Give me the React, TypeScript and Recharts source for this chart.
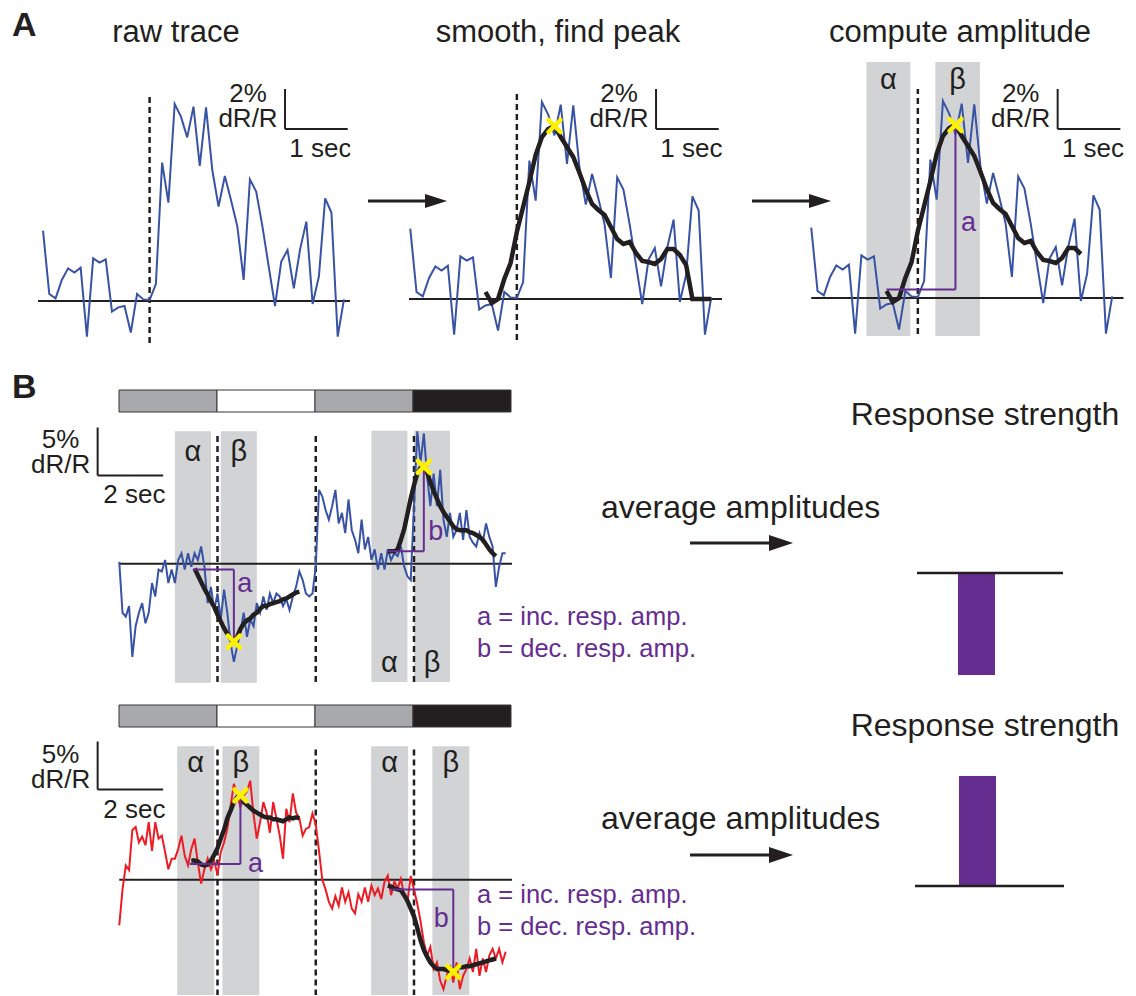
import React from 'react';
import {
  ComposedChart,
  Line,
  XAxis,
  YAxis,
  ReferenceLine,
  ReferenceArea,
  ReferenceDot,
  BarChart,
  Bar,
} from 'recharts';

const FONT = '"Liberation Sans", Arial, Helvetica, sans-serif';
const INK = '#231f20';
const BLUE = '#3853a4';
const RED = '#ed1c24';
const SHADE = '#d1d3d4';
const PURPLE = '#662d91';
const YELLOW = '#fff200';
const STIM_COLORS = ['#a7a9ac', '#ffffff', '#a7a9ac', '#231f20'];

// ---------- panel A: one trial, dR/R (%) sampled at 10 Hz ----------
const rawA = [
  3.52, 0.35, 0.13, 1.05, 1.63, 1.42, 1.67, -1.78, 2.13, 1.92, 2.08, -0.53, -0.32, -0.25, -1.58, 0.35,
  0.08, 0.05, 0.85, 6.92, 4.92, 9.85, 9.22, 8.18, 9.72, 6.75, 9.68, 6.55, 4.72, 6.25, 5.02, 3.72, 1.05,
  6.08, 5.47, 3.72, 1.72, -0.25, 1.97, 2.55, 0.63, 2.58, 3.97, -0.15, 1.22, 5.13, 4.42, -1.78, 0.08,
];
const smoothStartA = 1.2;
const smoothA = [
  0.35, -0.2, 0.0, 1.0, 1.8, 3.35, 4.6, 5.85, 7.2, 8.1, 8.5, 8.65, 8.1, 7.6, 7.1, 6.3, 5.45, 4.75, 4.45,
  4.2, 3.6, 3.0, 2.75, 2.85, 2.3, 1.9, 1.85, 1.75, 2.0, 2.5, 2.5, 2.2, 1.7, 0.0, 0.0, 0.0, 0.0,
];
const smoothEndA3 = 4.3;
const onsetA = 1.7;
const alphaA = [0.88, 1.58];
const betaA = [1.98, 2.69];
const ampA = { name: 'a', from: 1.2, base: 0.42, sign: 1 };

// ---------- panel B: 12 s trials, four 3 s stimulus epochs, 10 Hz ----------
const stimEpochs = [3, 3, 3, 3];
const stimOnsets = [3, 6, 9];

const blueRaw = [
  0.2, -5.1, -5.5, -4.4, -9.7, -6.5, -5.1, -4.1, -6.2, -5.1, -2.0, -3.4, -0.6, -0.8, 0.4, -2.0, -0.6,
  -2.0, 0.4, 1.1, -0.6, 1.1, -0.3, 1.1, 0.4, 1.8, -0.3, -4.1, -2.4, -4.8, -3.1,
  -5.8, -2.7, -5.1, -8.3, -10.2, -8.6, -7.2, -5.1, -7.6, -5.8, -6.5, -4.1, -5.1, -3.4, -4.8, -3.1, -4.1,
  -3.1, -3.4, -4.4, -3.7, -4.8, -3.4, -2.4, -0.8, -1.7, -3.1, -3.4, -3.1, -0.3,
  7.7, 7.0, 5.6, 4.6, 6.0, 7.7, 4.2, 5.3, 3.2, 6.7, 3.5, 2.5, 1.1, 4.6, 1.5, 2.8, 0.4, 1.5, -0.6, 1.1,
  -0.6, 1.5, 0.4, 1.1, 0.8, 1.8, -0.3, -1.3, -1.7, 6.0,
  13.8, 10.5, 13.6, 9.1, 6.0, 9.4, 6.0, 9.8, 4.6, 2.8, 5.3, 2.8, 3.5, 5.3, 2.5, 5.6, 2.8, 2.2, 1.8, 3.2,
  2.2, 4.2, 2.8, 1.8, -2.4, -0.3, 1.1, 1.1,
];
const blueSmoothStarts = [2.3, 8.2];
const blueSmoothEarly = [
  -0.5, -1.2, -1.9, -2.6, -3.2, -3.9, -4.5, -5.3, -6.0, -6.7, -7.3, -7.8, -8.1, -7.6, -6.8, -6.2, -5.9,
  -5.7, -5.3, -5.1, -4.7, -4.4, -4.4, -4.2, -4.1, -4.0, -3.9, -3.7, -3.6, -3.4, -3.2, -3.0, -2.9,
];
const blueSmoothLate = [
  1.3, 1.3, 1.3, 1.5, 2.5, 3.6, 5.2, 6.8, 8.2, 9.4, 10.0, 10.1, 9.5, 8.5, 7.6, 6.8, 6.0, 5.4, 4.9, 4.4,
  3.9, 3.6, 3.5, 3.5, 3.5, 3.3, 3.2, 3.0, 2.8, 2.5, 2.0, 1.5, 1.1, 0.8,
];
const blueAlpha = [[1.7, 2.8], [7.7, 8.8]];
const blueBeta = [[3.1, 4.2], [9.0, 10.1]];
const blueAmps = [
  { name: 'a', from: 2.25, base: -0.6, sign: -1 },
  { name: 'b', from: 8.2, base: 1.3, sign: 1 },
];

const redRaw = [
  -4.75, -1.0, 1.5, 1.0, 5.2, 5.5, 3.9, 4.5, 3.6, 6.0, 3.0, 6.0, 4.3, 4.6, 2.9, 1.1, 2.2, 2.2, 3.2, 4.6,
  2.5, 1.5, 3.2, 4.3, 1.8, -0.4, 1.1, 2.2, 1.1, 2.0, 0.5,
  2.9, 3.9, 5.3, 7.7, 10.0, 8.8, 7.6, 8.8, 9.2, 10.3, 6.8, 4.3, 6.0, 8.1, 7.0, 4.9, 8.1, 6.4, 4.6, 2.2,
  7.4, 6.0, 9.0, 7.0, 6.4, 4.6, 5.3, 5.5, 6.9, 5.8,
  3.0, 0.0, -1.0, -2.3, -3.0, -1.7, -2.7, -0.8, -2.3, -1.3, -3.0, -3.5, -1.5, -2.3, -0.8, -2.3, -0.6,
  -1.6, -0.9, -2.0, -0.2, 0.45, -1.6, -0.2, -0.9, 0.1, -1.6, -2.3, 0.4, -1.0,
  -2.5, -4.3, -6.5, -7.9, -7.0, -9.3, -8.6, -10.5, -11.4, -10.0, -8.9, -10.7, -8.6, -11.4, -10.0, -9.3,
  -8.2, -9.6, -7.2, -10.0, -8.2, -9.6, -7.9, -7.2, -8.2, -7.2, -8.6, -7.5,
];
const redSmoothStarts = [2.2, 8.2];
const redSmoothEarly = [
  2.0, 2.0, 1.9, 1.6, 1.5, 1.6, 2.0, 2.6, 3.3, 4.3, 5.2, 6.4, 7.2, 8.1, 8.6, 8.8, 8.1, 7.8, 7.5, 7.2,
  7.0, 6.8, 6.6, 6.5, 6.5, 6.3, 6.3, 6.2, 6.1, 6.3, 6.5, 6.4, 6.5, 6.4,
];
const redSmoothLate = [
  -0.6, -0.7, -0.9, -1.0, -1.1, -1.6, -2.2, -3.0, -3.8, -5.0, -6.3, -7.3, -8.0, -8.6, -9.0, -9.3, -9.3,
  -9.3, -9.4, -9.5, -9.6, -9.2, -9.1, -9.1, -9.0, -9.0, -8.9, -8.8, -8.7, -8.6, -8.5, -8.4, -8.3, -8.2,
];
const redAlpha = [[1.77, 2.9], [7.69, 8.82]];
const redBeta = [[3.15, 4.28], [9.56, 10.69]];
const redAmps = [
  { name: 'a', from: 2.15, base: 1.65, sign: 1 },
  { name: 'b', from: 8.3, base: -1.0, sign: -1 },
];

// averaged amplitudes (response strength, a.u.)
const responseBlue = -10.2;
const responseRed = 11.0;

type Row = { t: number; raw: number; smooth: number | null; cut?: number | null };
type Seg = { start: number; values: number[] };

function buildRows(raw: number[], segs: Seg[]): Row[] {
  return raw.map((v, i) => {
    let s: number | null = null;
    segs.forEach((seg) => {
      const k = i - Math.round(seg.start * 10);
      if (k >= 0 && k < seg.values.length) s = seg.values[k];
    });
    return { t: i / 10, raw: v, smooth: s };
  });
}

function findPeak(rows: Row[], win: number[], sign: number) {
  let best: { t: number; v: number } | null = null;
  rows.forEach((r) => {
    if (r.smooth == null || r.t < win[0] - 1e-9 || r.t > win[1] + 1e-9) return;
    if (!best || sign * r.smooth > sign * best.v) best = { t: r.t, v: r.smooth };
  });
  return best as unknown as { t: number; v: number };
}

const rowsA: Row[] = buildRows(rawA, [{ start: smoothStartA, values: smoothA }]).map((r) => ({
  ...r,
  cut: r.t <= smoothEndA3 + 1e-9 ? r.smooth : null,
}));
const rowsBlue = buildRows(blueRaw, [
  { start: blueSmoothStarts[0], values: blueSmoothEarly },
  { start: blueSmoothStarts[1], values: blueSmoothLate },
]);
const rowsRed = buildRows(redRaw, [
  { start: redSmoothStarts[0], values: redSmoothEarly },
  { start: redSmoothStarts[1], values: redSmoothLate },
]);

// ---------- label renderers ----------
const vbOf = (p: any) => p?.viewBox || { x: 0, y: 0, width: 0, height: 0 };

const scaleVertLabel = (top: string, bottom: string, size: number) => (p: any) => {
  const vb = vbOf(p);
  const x = vb.x - 37;
  const yb = vb.y + vb.height;
  return (
    <g fill={INK} fontSize={size} textAnchor="middle">
      <text x={x} y={yb - 27}>{top}</text>
      <text x={x} y={yb - 2}>{bottom}</text>
    </g>
  );
};

const scaleHorzLabel = (text: string, size: number) => (p: any) => {
  const vb = vbOf(p);
  return (
    <text x={vb.x + vb.width / 2 + 4} y={vb.y + 28} fill={INK} fontSize={size} textAnchor="middle">
      {text}
    </text>
  );
};

const areaLabel = (text: string, at: 'top' | 'bottom', off: number) => (p: any) => {
  const vb = vbOf(p);
  const y = at === 'top' ? vb.y + off : vb.y + vb.height - off;
  return (
    <text x={vb.x + vb.width / 2} y={y} fill={INK} fontSize={29} textAnchor="middle" dominantBaseline="central">
      {text}
    </text>
  );
};

const tagLabel = (text: string, dx: number, dy: number) => (p: any) => {
  const vb = vbOf(p);
  return (
    <text
      x={vb.x + dx}
      y={vb.y + vb.height / 2 + dy}
      fill={PURPLE}
      fontSize={27}
      textAnchor="middle"
      dominantBaseline="central"
    >
      {text}
    </text>
  );
};

const xMark = (p: any) => (
  <g stroke={YELLOW} strokeWidth={4.5} strokeLinecap="round">
    <line x1={p.cx - 6} y1={p.cy - 6} x2={p.cx + 6} y2={p.cy + 6} />
    <line x1={p.cx - 6} y1={p.cy + 6} x2={p.cx + 6} y2={p.cy - 6} />
  </g>
);

type Shade = { x: number[]; y: number[]; label?: string; at?: 'top' | 'bottom'; off?: number };
type Amp = { name: string; from: number; base: number; peak: { t: number; v: number }; dx: number; dy: number };

type TraceProps = {
  left: number;
  top: number;
  pxX: number;
  pxY: number;
  xDomain: number[];
  yDomain: number[];
  rows: Row[];
  color: string;
  smoothKey?: string;
  shades?: Shade[];
  dashes: { x: number; y: number[] }[];
  baseline: number[];
  scale: { x: number; y: number; w: number; h: number; top: string; bottom: string; time: string; size: number };
  amps?: Amp[];
  marks?: { t: number; v: number }[];
};

function TraceChart(props: TraceProps) {
  const { left, top, pxX, pxY, xDomain, yDomain, rows, color, smoothKey, shades = [], dashes, baseline, scale, amps = [], marks = [] } = props;
  const width = (xDomain[1] - xDomain[0]) * pxX;
  const height = (yDomain[1] - yDomain[0]) * pxY;
  return (
    <div style={{ position: 'absolute', left, top }}>
      <ComposedChart width={width} height={height} data={rows} margin={{ top: 0, right: 0, bottom: 0, left: 0 }}>
        <XAxis type="number" dataKey="t" domain={xDomain} hide allowDataOverflow />
        <YAxis type="number" domain={yDomain} hide allowDataOverflow />
        {shades.map((s, i) => (
          <ReferenceArea
            key={`shade-${i}`}
            x1={s.x[0]}
            x2={s.x[1]}
            y1={s.y[0]}
            y2={s.y[1]}
            fill={SHADE}
            fillOpacity={1}
            stroke="none"
            label={s.label ? areaLabel(s.label, s.at || 'top', s.off || 18) : undefined}
          />
        ))}
        <ReferenceLine
          segment={[{ x: baseline[0], y: 0 }, { x: baseline[1], y: 0 }]}
          stroke={INK}
          strokeWidth={2}
        />
        {dashes.map((d, i) => (
          <ReferenceLine
            key={`dash-${i}`}
            segment={[{ x: d.x, y: d.y[0] }, { x: d.x, y: d.y[1] }]}
            stroke={INK}
            strokeWidth={2.5}
            strokeDasharray="6 4"
          />
        ))}
        <Line
          type="linear"
          dataKey="raw"
          stroke={color}
          strokeWidth={2}
          dot={false}
          activeDot={false}
          isAnimationActive={false}
        />
        {smoothKey && (
          <Line
            type="linear"
            dataKey={smoothKey}
            stroke={INK}
            strokeWidth={4.5}
            dot={false}
            activeDot={false}
            connectNulls={false}
            isAnimationActive={false}
          />
        )}
        {amps.map((a, i) => (
          <ReferenceLine
            key={`amp-h-${i}`}
            segment={[{ x: a.from, y: a.base }, { x: a.peak.t, y: a.base }]}
            stroke={PURPLE}
            strokeWidth={2}
          />
        ))}
        {amps.map((a, i) => (
          <ReferenceLine
            key={`amp-v-${i}`}
            segment={[{ x: a.peak.t, y: a.base }, { x: a.peak.t, y: a.peak.v }]}
            stroke={PURPLE}
            strokeWidth={2}
            label={tagLabel(a.name, a.dx, a.dy)}
          />
        ))}
        <ReferenceLine
          segment={[{ x: scale.x, y: scale.y }, { x: scale.x, y: scale.y + scale.h }]}
          stroke={INK}
          strokeWidth={2}
          label={scaleVertLabel(scale.top, scale.bottom, scale.size)}
        />
        <ReferenceLine
          segment={[{ x: scale.x, y: scale.y }, { x: scale.x + scale.w, y: scale.y }]}
          stroke={INK}
          strokeWidth={2}
          label={scaleHorzLabel(scale.time, scale.size)}
        />
        {marks.map((m, i) => (
          <ReferenceDot key={`mark-${i}`} x={m.t} y={m.v} r={6} shape={xMark} />
        ))}
      </ComposedChart>
    </div>
  );
}

function StimBar({ left, top }: { left: number; top: number }) {
  const row: Record<string, number | string> = { k: 'stim' };
  stimEpochs.forEach((d, i) => {
    row[`e${i}`] = d;
  });
  const total = stimEpochs.reduce((s, d) => s + d, 0);
  return (
    <div style={{ position: 'absolute', left, top }}>
      <BarChart
        layout="vertical"
        width={394}
        height={24}
        data={[row]}
        margin={{ top: 1, right: 1, bottom: 1, left: 1 }}
        barCategoryGap={0}
      >
        <XAxis type="number" domain={[0, total]} hide />
        <YAxis type="category" dataKey="k" hide />
        {stimEpochs.map((_, i) => (
          <Bar
            key={`e${i}`}
            dataKey={`e${i}`}
            stackId="s"
            fill={STIM_COLORS[i]}
            stroke="#3a3536"
            strokeWidth={1}
            isAnimationActive={false}
          />
        ))}
      </BarChart>
    </div>
  );
}

function ResponseBar(props: { left: number; top: number; width: number; height: number; value: number; domain: number[]; padRight: number }) {
  const { left, top, width, height, value, domain, padRight } = props;
  return (
    <div style={{ position: 'absolute', left, top }}>
      <BarChart width={width} height={height} data={[{ k: 'resp', v: value }]} margin={{ top: 0, right: 0, bottom: 0, left: 0 }}>
        <XAxis dataKey="k" hide padding={{ left: 0, right: padRight }} />
        <YAxis type="number" domain={domain} hide allowDataOverflow />
        <Bar dataKey="v" fill={PURPLE} barSize={37} isAnimationActive={false} />
        <ReferenceLine y={0} stroke={INK} strokeWidth={2.5} />
      </BarChart>
    </div>
  );
}

const Arrow = ({ x1, x2, y, head = 22, half = 7 }: { x1: number; x2: number; y: number; head?: number; half?: number }) => (
  <g>
    <line x1={x1} y1={y} x2={x2 - head + 2} y2={y} stroke={INK} strokeWidth={3} />
    <path d={`M${x2 - head},${y - half} L${x2},${y} L${x2 - head},${y + half} Z`} fill={INK} />
  </g>
);

export default function App() {
  const peakA = findPeak(rowsA, betaA, ampA.sign);
  const bluePeaks = blueAmps.map((a, i) => findPeak(rowsBlue, blueBeta[i], a.sign));
  const redPeaks = redAmps.map((a, i) => findPeak(rowsRed, redBeta[i], a.sign));

  const pxA = { x: 62.7, y: 20 };
  const pxB = { x: 32.75, y: 9.6 };

  const blueTagOffsets = [
    { dx: 11, dy: -23 },
    { dx: 12, dy: 22 },
  ];
  const redTagOffsets = [
    { dx: 15, dy: 33 },
    { dx: -12, dy: -13 },
  ];

  return (
    <div
      style={{
        position: 'absolute',
        left: 0,
        top: 0,
        width: 1136,
        height: 996,
        background: '#ffffff',
        fontFamily: FONT,
        overflow: 'hidden',
      }}
    >
      {/* A: raw trace */}
      <TraceChart
        left={43 - 0.08 * pxA.x}
        top={301 - 12 * pxA.y}
        pxX={pxA.x}
        pxY={pxA.y}
        xDomain={[-0.08, 4.9]}
        yDomain={[-2.2, 12]}
        rows={rowsA}
        color={BLUE}
        dashes={[{ x: onsetA, y: [-2.1, 10.3] }]}
        baseline={[-0.08, 4.9]}
        scale={{ x: 3.86, y: 8.6, w: 1, h: 2, top: '2%', bottom: 'dR/R', time: '1 sec', size: 26 }}
      />
      {/* A: smoothed, peak */}
      <TraceChart
        left={410 - 0.02 * pxA.x}
        top={299 - 12 * pxA.y}
        pxX={pxA.x}
        pxY={pxA.y}
        xDomain={[-0.02, 4.98]}
        yDomain={[-2.3, 12]}
        rows={rowsA}
        color={BLUE}
        smoothKey="smooth"
        dashes={[{ x: onsetA, y: [-2.05, 10.3] }]}
        baseline={[-0.02, 4.98]}
        scale={{ x: 3.92, y: 8.5, w: 1, h: 2, top: '2%', bottom: 'dR/R', time: '1 sec', size: 26 }}
        marks={[peakA]}
      />
      {/* A: amplitude */}
      <TraceChart
        left={811.7 - 0.02 * pxA.x}
        top={298.3 - 12.5 * pxA.y}
        pxX={pxA.x}
        pxY={pxA.y}
        xDomain={[-0.02, 4.98]}
        yDomain={[-1.9, 12.5]}
        rows={rowsA}
        color={BLUE}
        smoothKey="cut"
        shades={[
          { x: alphaA, y: [-1.9, 11.8], label: 'α', at: 'top', off: 17 },
          { x: betaA, y: [-1.9, 11.8], label: 'β', at: 'top', off: 17 },
        ]}
        dashes={[{ x: onsetA, y: [-1.8, 10.45] }]}
        baseline={[0, 4.98]}
        scale={{ x: 3.93, y: 8.45, w: 1, h: 2, top: '2%', bottom: 'dR/R', time: '1 sec', size: 26 }}
        amps={[{ name: ampA.name, from: ampA.from, base: ampA.base, peak: peakA, dx: 13, dy: 15 }]}
        marks={[peakA]}
      />

      {/* B: first cell */}
      <StimBar left={118} top={389} />
      <TraceChart
        left={119 - 3 * pxB.x}
        top={564 - 15.5 * pxB.y}
        pxX={pxB.x}
        pxY={pxB.y}
        xDomain={[-3, 12]}
        yDomain={[-12.5, 15.5]}
        rows={rowsBlue}
        color={BLUE}
        smoothKey="smooth"
        shades={[
          { x: blueAlpha[0], y: [-12.4, 13.8], label: 'α', at: 'top', off: 20 },
          { x: blueBeta[0], y: [-12.4, 13.8], label: 'β', at: 'top', off: 20 },
          { x: blueAlpha[1], y: [-12.3, 13.85], label: 'α', at: 'bottom', off: 20 },
          { x: blueBeta[1], y: [-12.3, 13.85], label: 'β', at: 'bottom', off: 20 },
        ]}
        dashes={stimOnsets.map((x) => ({ x, y: [-12.3, 13.65] }))}
        baseline={[0, 12]}
        scale={{ x: -0.66, y: 9.2, w: 2, h: 5, top: '5%', bottom: 'dR/R', time: '2 sec', size: 26 }}
        amps={blueAmps.map((a, i) => ({
          name: a.name,
          from: a.from,
          base: a.base,
          peak: bluePeaks[i],
          ...blueTagOffsets[i],
        }))}
        marks={bluePeaks}
      />

      {/* B: second cell */}
      <StimBar left={118} top={704} />
      <TraceChart
        left={119 - 3 * pxB.x}
        top={879.3 - 15.5 * pxB.y}
        pxX={pxB.x}
        pxY={pxB.y}
        xDomain={[-3, 12]}
        yDomain={[-12.1, 15.5]}
        rows={rowsRed}
        color={RED}
        smoothKey="smooth"
        shades={[
          { x: redAlpha[0], y: [-12.05, 13.9], label: 'α', at: 'top', off: 16 },
          { x: redBeta[0], y: [-12.05, 13.9], label: 'β', at: 'top', off: 16 },
          { x: redAlpha[1], y: [-12.05, 13.9], label: 'α', at: 'top', off: 16 },
          { x: redBeta[1], y: [-12.05, 13.9], label: 'β', at: 'top', off: 16 },
        ]}
        dashes={stimOnsets.map((x) => ({ x, y: [-12.05, 13.7] }))}
        baseline={[0, 12]}
        scale={{ x: -0.66, y: 9.4, w: 2, h: 5, top: '5%', bottom: 'dR/R', time: '2 sec', size: 26 }}
        amps={redAmps.map((a, i) => ({
          name: a.name,
          from: a.from,
          base: a.base,
          peak: redPeaks[i],
          ...redTagOffsets[i],
        }))}
        marks={redPeaks}
      />

      <ResponseBar left={917} top={573 - 2.8 * 10} width={146} height={140} value={responseBlue} domain={[-11.2, 2.8]} padRight={27} />
      <ResponseBar left={915} top={886 - 12 * 10} width={149} height={130} value={responseRed} domain={[-1, 12]} padRight={24} />

      <svg width={1136} height={996} style={{ position: 'absolute', left: 0, top: 0, pointerEvents: 'none' }}>
        <g fill={INK}>
          <text x={12} y={36} fontSize={34} fontWeight="bold">A</text>
          <text x={12} y={398} fontSize={34} fontWeight="bold">B</text>
          <g fontSize={31} textAnchor="middle">
            <text x={176} y={42}>raw trace</text>
            <text x={558} y={42}>smooth, find peak</text>
            <text x={960} y={42}>compute amplitude</text>
          </g>
          <g fontSize={32} textAnchor="middle">
            <text x={985} y={425}>Response strength</text>
            <text x={985} y={736}>Response strength</text>
          </g>
          <g fontSize={32}>
            <text x={601} y={518}>average amplitudes</text>
            <text x={601} y={829}>average amplitudes</text>
          </g>
        </g>
        <g fill={PURPLE} fontSize={25.5}>
          <text x={477} y={625}>a = inc. resp. amp.</text>
          <text x={477} y={657}>b = dec. resp. amp.</text>
          <text x={477} y={903}>a = inc. resp. amp.</text>
          <text x={477} y={935}>b = dec. resp. amp.</text>
        </g>
        <Arrow x1={368} x2={447} y={201} />
        <Arrow x1={752} x2={831} y={201} />
        <Arrow x1={690} x2={793} y={543} head={24} half={8} />
        <Arrow x1={690} x2={793} y={855} head={24} half={8} />
      </svg>
    </div>
  );
}
